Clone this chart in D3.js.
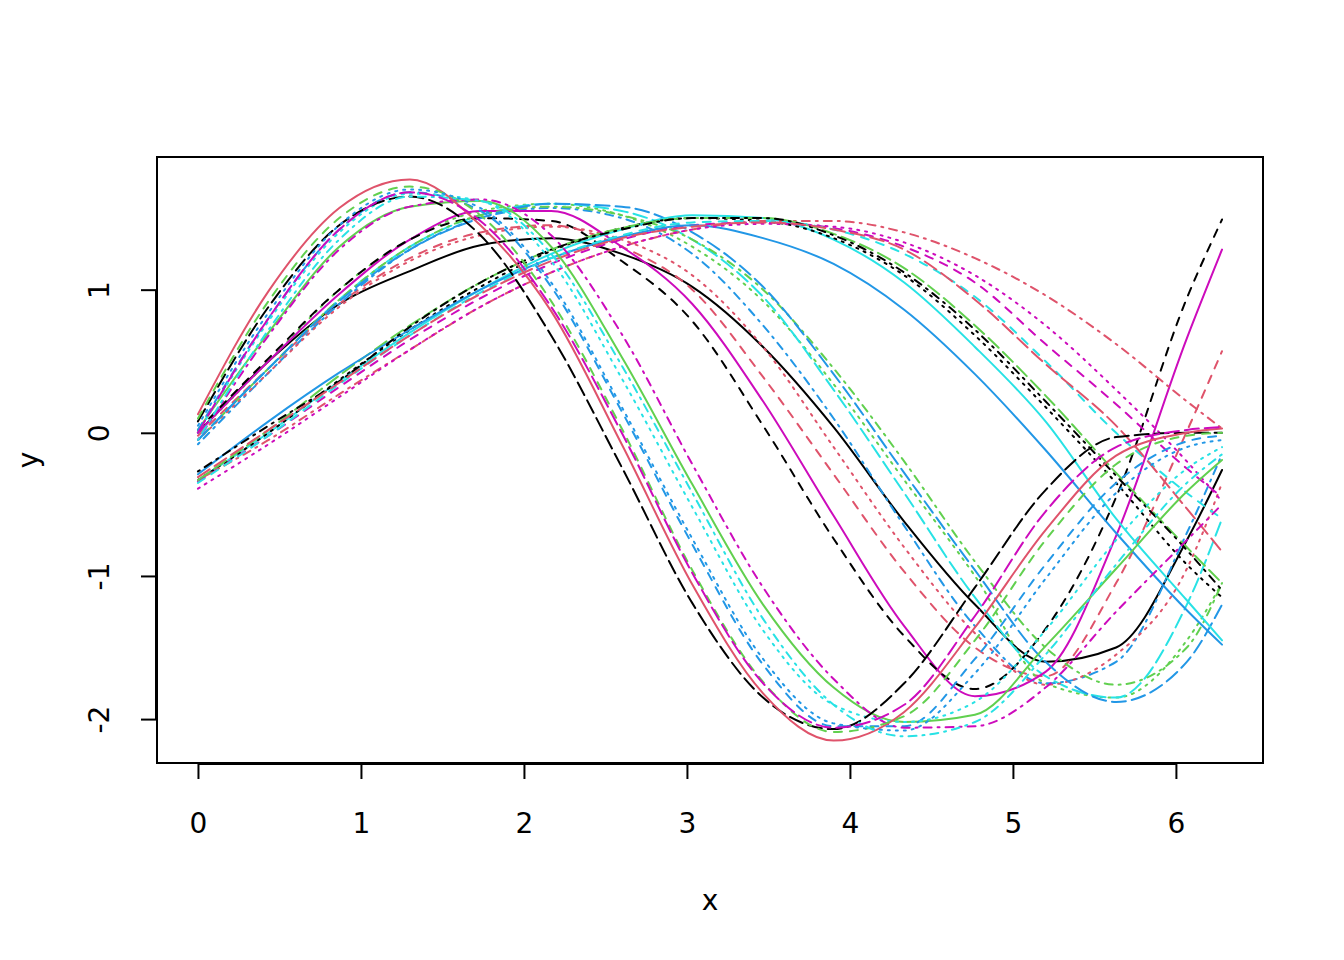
<!DOCTYPE html>
<html>
<head>
<meta charset="utf-8">
<script src="https://cdn.jsdelivr.net/npm/d3@7"></script>
<style>
  html, body { margin: 0; padding: 0; background: #fff; }
  svg { display: block; }
  text { font-family: "DejaVu Sans", "Liberation Sans", sans-serif; fill: #000; }
</style>
</head>
<body>
<svg id="chart" width="1344" height="960"></svg>
<script>
// ---- data (x grid shared by every column) ----
const xGrid = [0, 0.433, 0.867, 1.300, 1.733, 2.167, 2.600, 3.033, 3.467, 3.900, 4.333, 4.767, 5.200, 5.633, 6.067, 6.283];

// columns 1-10
const col01 = [0.00, 0.50, 0.90, 1.13, 1.31, 1.36, 1.25, 1.02, 0.60, 0.04, -0.62, -1.20, -1.60, -1.50, -0.75, -0.26];
const col02 = [-0.02, 0.45, 0.90, 1.22, 1.40, 1.45, 1.30, 1.00, 0.39, -0.29, -0.97, -1.50, -1.70, -1.05, 0.01, 0.57];
const col03 = [0.00, 0.50, 1.00, 1.35, 1.55, 1.60, 1.52, 1.30, 0.92, 0.34, -0.33, -1.00, -1.75, -1.85, -1.45, -1.05];
const col04 = [-0.08, 0.42, 0.90, 1.28, 1.50, 1.57, 1.50, 1.25, 0.75, 0.10, -0.65, -1.35, -1.75, -1.60, -0.70, -0.15];
const col05 = [-0.05, 0.45, 0.93, 1.30, 1.52, 1.60, 1.55, 1.35, 0.95, 0.30, -0.42, -1.15, -1.70, -1.85, -1.20, -0.60];
const col06 = [0.00, 0.50, 0.97, 1.35, 1.55, 1.55, 1.30, 0.90, 0.22, -0.58, -1.35, -1.84, -1.67, -0.72, 0.66, 1.28];
const col07 = [0.02, 0.52, 1.00, 1.35, 1.50, 1.48, 1.20, 0.78, 0.05, -0.74, -1.42, -1.79, -1.37, -0.45, 0.94, 1.49];
const col08 = [-0.05, 0.42, 0.88, 1.20, 1.38, 1.44, 1.35, 1.10, 0.60, -0.10, -0.80, -1.40, -1.76, -1.55, -0.95, -0.35];
const col09 = [-0.05, 0.45, 0.93, 1.30, 1.52, 1.58, 1.52, 1.35, 1.00, 0.45, -0.20, -0.90, -1.50, -1.76, -1.50, -1.05];
const col10 = [-0.05, 0.45, 0.92, 1.28, 1.50, 1.60, 1.58, 1.40, 1.02, 0.41, -0.28, -0.96, -1.60, -1.88, -1.60, -1.20];
// columns 11-20
const col11 = [-0.33, 0.00, 0.36, 0.70, 1.00, 1.25, 1.42, 1.52, 1.50, 1.35, 1.05, 0.60, 0.08, -0.60, -1.17, -1.45];
const col12 = [-0.34, -0.02, 0.32, 0.65, 0.94, 1.18, 1.35, 1.45, 1.47, 1.43, 1.30, 1.05, 0.62, 0.20, -0.25, -0.45];
const col13 = [-0.33, 0.00, 0.37, 0.72, 1.02, 1.27, 1.43, 1.50, 1.48, 1.36, 1.10, 0.68, 0.18, -0.35, -0.92, -1.15];
const col14 = [-0.33, -0.05, 0.27, 0.58, 0.88, 1.12, 1.30, 1.42, 1.48, 1.48, 1.40, 1.22, 0.96, 0.62, 0.22, 0.03];
const col15 = [-0.33, 0.02, 0.40, 0.75, 1.05, 1.28, 1.43, 1.50, 1.50, 1.39, 1.15, 0.75, 0.26, -0.28, -0.80, -1.05];
const col16 = [-0.29, 0.08, 0.42, 0.72, 1.00, 1.22, 1.37, 1.45, 1.36, 1.18, 0.86, 0.41, -0.12, -0.70, -1.24, -1.48];
const col17 = [-0.35, -0.02, 0.34, 0.68, 0.98, 1.22, 1.38, 1.47, 1.48, 1.42, 1.25, 0.95, 0.50, 0.00, -0.42, -0.60];
const col18 = [-0.39, -0.08, 0.25, 0.58, 0.88, 1.12, 1.30, 1.42, 1.46, 1.44, 1.33, 1.10, 0.75, 0.30, -0.20, -0.48];
const col19 = [-0.27, 0.05, 0.36, 0.74, 1.05, 1.28, 1.42, 1.50, 1.50, 1.38, 1.12, 0.72, 0.22, -0.30, -0.82, -1.10];
const col20 = [-0.31, 0.02, 0.35, 0.68, 0.97, 1.20, 1.36, 1.44, 1.47, 1.42, 1.28, 0.93, 0.48, 0.05, -0.53, -0.83];
// columns 21-30
const col21 = [0.02, 0.70, 1.30, 1.58, 1.62, 1.30, 0.53, -0.36, -1.20, -1.78, -2.02, -1.97, -1.49, -0.95, -0.41, -0.19];
const col22 = [0.02, 0.80, 1.42, 1.68, 1.55, 1.02, 0.15, -0.78, -1.62, -2.05, -2.05, -1.58, -0.92, -0.35, -0.06, -0.02];
const col23 = [0.00, 0.78, 1.40, 1.67, 1.62, 1.20, 0.38, -0.52, -1.38, -1.90, -2.02, -1.88, -1.38, -0.75, -0.25, -0.10];
const col24 = [-0.05, 0.68, 1.28, 1.58, 1.63, 1.38, 0.69, -0.22, -1.08, -1.72, -2.06, -2.05, -1.78, -1.25, -0.75, -0.50];
const col25 = [0.08, 0.88, 1.45, 1.65, 1.38, 0.68, -0.24, -1.19, -1.85, -2.07, -1.75, -1.08, -0.40, -0.03, 0.00, 0.00];
const col26 = [0.13, 0.99, 1.57, 1.77, 1.45, 0.85, -0.08, -1.06, -1.82, -2.15, -1.95, -1.36, -0.68, -0.16, 0.00, 0.03];
const col27 = [0.10, 0.92, 1.50, 1.72, 1.52, 0.92, 0.03, -0.96, -1.74, -2.09, -1.98, -1.45, -0.75, -0.22, -0.02, 0.00];
const col28 = [0.05, 0.84, 1.45, 1.70, 1.57, 1.05, 0.18, -0.74, -1.58, -2.03, -2.08, -1.68, -1.02, -0.42, -0.10, -0.05];
const col29 = [-0.05, 0.72, 1.35, 1.65, 1.62, 1.25, 0.47, -0.42, -1.30, -1.90, -2.12, -2.02, -1.55, -0.92, -0.35, -0.15];
const col30 = [0.00, 0.80, 1.42, 1.68, 1.48, 0.88, 0.00, -0.98, -1.75, -2.06, -1.90, -1.28, -0.55, -0.10, 0.02, 0.04];

const columns = [col01, col02, col03, col04, col05, col06, col07, col08, col09, col10,
                 col11, col12, col13, col14, col15, col16, col17, col18, col19, col20,
                 col21, col22, col23, col24, col25, col26, col27, col28, col29, col30];

const xTicks = [0, 1, 2, 3, 4, 5, 6];
const yTicks = [-2, -1, 0, 1];
const xTickLabels = ["0", "1", "2", "3", "4", "5", "6"];
const yTickLabels = ["-2", "-1", "0", "1"];
const xLabel = "x";
const yLabel = "y";

// ---- styles (matplot defaults: col = 1:6, lty = 1:5, recycled) ----
const palette = ["#000000", "#DF536B", "#61D04F", "#2297E6", "#28E2E5", "#CD0BBC"];
const dashes = [null, "8,8", "2,6", "2,6,8,6", "14,6"];

// ---- layout ----
const svg = d3.select("#chart");
const plot = { left: 157, right: 1263, top: 157, bottom: 763 };

const xMin = d3.min(xGrid), xMax = d3.max(xGrid);
const xPad = (xMax - xMin) * 0.04;
const allY = columns.flat();
const yMin = d3.min(allY), yMax = d3.max(allY);
const yPad = (yMax - yMin) * 0.04;

const x = d3.scaleLinear().domain([xMin - xPad, xMax + xPad]).range([plot.left, plot.right]);
const y = d3.scaleLinear().domain([yMin - yPad, yMax + yPad]).range([plot.bottom, plot.top]);

svg.append("clipPath").attr("id", "clip")
  .append("rect").attr("x", plot.left).attr("y", plot.top)
  .attr("width", plot.right - plot.left).attr("height", plot.bottom - plot.top);

const line = d3.line()
  .x((d, i) => x(xGrid[i]))
  .y(d => y(d))
  .curve(d3.curveMonotoneX);

const g = svg.append("g").attr("clip-path", "url(#clip)");
columns.forEach((vals, j) => {
  const p = g.append("path")
    .attr("d", line(vals))
    .attr("fill", "none")
    .attr("stroke", palette[j % 6])
    .attr("stroke-width", 2)
    .attr("stroke-linecap", "round")
    .attr("stroke-linejoin", "round");
  const da = dashes[j % 5];
  if (da) p.attr("stroke-dasharray", da);
});

// box
svg.append("rect")
  .attr("x", plot.left).attr("y", plot.top)
  .attr("width", plot.right - plot.left).attr("height", plot.bottom - plot.top)
  .attr("fill", "none").attr("stroke", "#000").attr("stroke-width", 2);

// x axis
const xAxis = d3.axisBottom(x).tickValues(xTicks).tickSize(15).tickPadding(34)
  .tickFormat((d, i) => xTickLabels[i]);
const gx = svg.append("g").attr("transform", `translate(0,${plot.bottom + 1})`).call(xAxis);
gx.select(".domain").attr("d", `M${x(xTicks[0])},0H${x(xTicks[xTicks.length - 1])}`)
  .attr("stroke-width", 2);
gx.selectAll(".tick line").attr("stroke-width", 2);
gx.selectAll(".tick text").attr("font-size", 28).attr("font-family", "DejaVu Sans");

// y axis
const yAxis = d3.axisLeft(y).tickValues(yTicks).tickSize(15)
  .tickFormat((d, i) => yTickLabels[i]);
const gy = svg.append("g").attr("transform", `translate(${plot.left - 1},0)`).call(yAxis);
gy.select(".domain").attr("d", `M0,${y(yTicks[0])}V${y(yTicks[yTicks.length - 1])}`)
  .attr("stroke-width", 2);
gy.selectAll(".tick line").attr("stroke-width", 2);
gy.selectAll(".tick text")
  .attr("font-size", 28).attr("font-family", "DejaVu Sans")
  .attr("x", null).attr("dy", null)
  .attr("text-anchor", "middle")
  .attr("transform", "translate(-57,0) rotate(-90)")
  .attr("dominant-baseline", "central");

// axis titles
svg.append("text").attr("x", (plot.left + plot.right) / 2).attr("y", 910)
  .attr("text-anchor", "middle").attr("font-size", 28).text(xLabel);
svg.append("text").attr("transform", `translate(38,${(plot.top + plot.bottom) / 2}) rotate(-90)`)
  .attr("text-anchor", "middle").attr("font-size", 28).text(yLabel);
</script>
</body>
</html>
